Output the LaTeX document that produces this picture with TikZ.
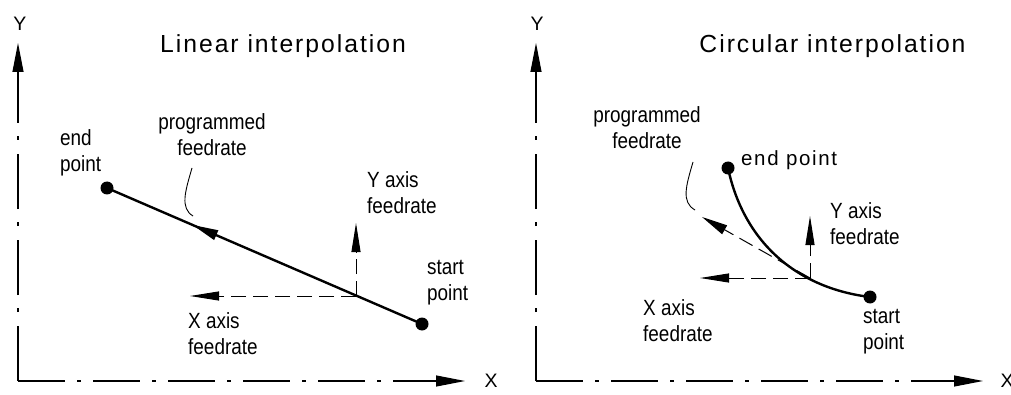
\documentclass[tikz,border=0pt]{standalone}
\usepackage{fontspec}
\setmainfont{Liberation Sans}
\newfontfamily\titlefont[LetterSpace=8]{Liberation Sans}
\newfontfamily\narrowfont[FakeStretch=0.86]{Liberation Sans}
\usetikzlibrary{arrows.meta,decorations.markings}
\tikzset{
  axisx/.style={line width=1.1pt, dash pattern=on 47pt off 12pt on 4pt off 12pt, -{Triangle[length=29pt,width=11pt]}},
  axisy/.style={line width=1.1pt, dash pattern=on 55pt off 14pt on 4pt off 13pt, -{Triangle[length=29pt,width=11pt]}},
  feed/.style={line width=1pt, dash pattern=on 15pt off 7pt, -{Triangle[length=29pt,width=9pt]}},
  toolpath/.style={line width=2.4pt},
  leader/.style={line width=0.9pt},
  dot/.style={circle, fill=black, inner sep=0pt, minimum size=13pt},
  lbl/.style={font=\narrowfont\fontsize{22}{26}\selectfont, inner sep=0pt, align=left},
  lblc/.style={lbl, align=center},
  ttl/.style={font=\titlefont\fontsize{24.7}{28}\selectfont, inner sep=0pt},
  ttlsmall/.style={font=\titlefont\fontsize{20.5}{24}\selectfont, inner sep=0pt},
  axlbl/.style={font=\fontsize{19.5}{22}\selectfont, inner sep=0pt},
}
\begin{document}
\begin{tikzpicture}[x=1pt,y=1pt]
\useasboundingbox (0,0) rectangle (1011,394);
% ---------- left panel ----------
\coordinate (O1) at (18,13);
\coordinate (Yt1) at (18,351);
\coordinate (Xt1) at (465,13);
\draw[axisy] (O1) -- (Yt1);
\draw[axisx] (O1) -- (Xt1);
\node[axlbl] (Ylab1) at (20,370.5) {Y};
\node[axlbl] (Xlab1) at (491,13) {X};
\node[ttl, anchor=base] (title1) at (283,341) {Linear interpolation};

\node[dot] (e1) at (107,206) {};
\node[dot] (s1) at (422,70) {};
\draw[toolpath, postaction={decorate, decoration={markings, mark=at position 0.729 with {\arrow{Triangle[length=26pt,width=10pt]}}}}] (s1.center) -- (e1.center);

\coordinate (p1) at (356,98);
\coordinate (yf1) at (356,171);
\coordinate (xf1) at (190,98);
\draw[feed] (p1) -- (yf1);
\draw[feed] (p1) -- (xf1);

\coordinate (la1) at (192,226);
\coordinate (lb1) at (193,178);
\draw[leader] (la1) .. controls (185,202) and (180,186) .. (lb1);

\node[lbl, anchor=west] (endlab1) at (60,241) {end\\point};
\node[lblc] (proglab1) at (212,259.5) {programmed\\feedrate};
\node[lbl, anchor=west] (yflab1) at (367,201) {Y axis\\feedrate};
\node[lbl, anchor=west] (startlab1) at (427,111) {start\\point};
\node[lbl, anchor=west] (xflab1) at (188,60.5) {X axis\\feedrate};

% ---------- right panel ----------
\coordinate (O2) at (536,13);
\coordinate (Yt2) at (536,351);
\coordinate (Xt2) at (983,13);
\draw[axisy] (O2) -- (Yt2);
\draw[axisx] (O2) -- (Xt2);
\node[axlbl] (Ylab2) at (537,370.5) {Y};
\node[axlbl] (Xlab2) at (1007,13) {X};
\node[ttl, anchor=base] (title2) at (832.5,341) {Circular interpolation};

\node[dot] (e2) at (728,226) {};
\node[dot] (s2) at (870,97) {};
\draw[toolpath] (s2.center) to[out=173,in=-78] (e2.center);

\coordinate (p2) at (810,116);
\coordinate (yf2) at (810,178);
\coordinate (xf2) at (700,116);
\coordinate (tf2) at (702,177);
\draw[feed] (p2) -- (yf2);
\draw[feed] (p2) -- (xf2);
\draw[feed, -{Triangle[length=26pt,width=10pt]}] (p2) -- (tf2);

\coordinate (la2) at (693,232);
\coordinate (lb2) at (695,184);
\draw[leader] (la2) .. controls (686,208) and (681,192) .. (lb2);

\node[ttlsmall, anchor=base west] (endlab2) at (741,228) {end point};
\node[lblc] (proglab2) at (647,266.5) {programmed\\feedrate};
\node[lbl, anchor=west] (yflab2) at (830,170.5) {Y axis\\feedrate};
\node[lbl, anchor=west] (xflab2) at (643,73.5) {X axis\\feedrate};
\node[lbl, anchor=west] (startlab2) at (863,62.5) {start\\point};
\end{tikzpicture}
\end{document}
